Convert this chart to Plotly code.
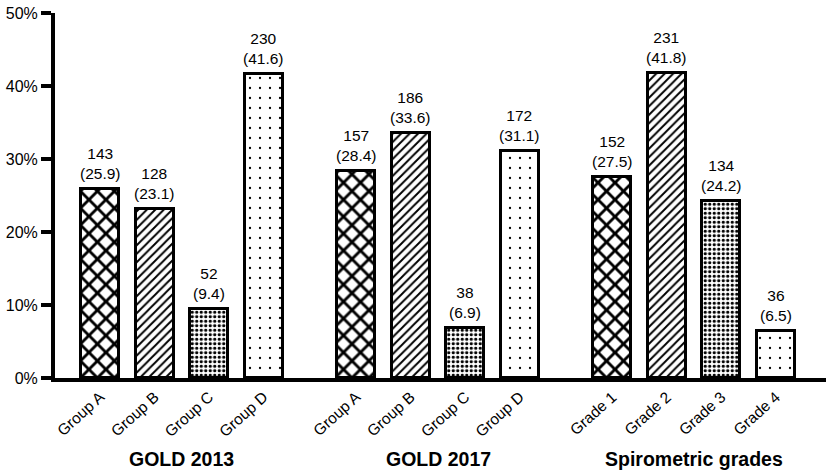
import plotly.graph_objects as go

# ---- data ----
groups = ["GOLD 2013", "GOLD 2017", "Spirometric grades"]
categories = [
    ["Group A", "Group B", "Group C", "Group D"],
    ["Group A", "Group B", "Group C", "Group D"],
    ["Grade 1", "Grade 2", "Grade 3", "Grade 4"],
]
counts = [
    [143, 128, 52, 230],
    [157, 186, 38, 172],
    [152, 231, 134, 36],
]
percents = [
    [25.9, 23.1, 9.4, 41.6],
    [28.4, 33.6, 6.9, 31.1],
    [27.5, 41.8, 24.2, 6.5],
]
y_ticks = [0, 10, 20, 30, 40, 50]

# ---- styling ----
GROUP_STEP = 4.7   # slots between group starts
patterns = [
    dict(shape="x", size=12, solidity=0.42),
    dict(shape="/", size=6, solidity=0.32),
    dict(shape=".", size=4.5, solidity=0.42),
    dict(shape=".", size=10, solidity=0.04),
]
FONT = "Liberation Sans, Arial, sans-serif"

fig = go.Figure()
tickvals, ticktext = [], []
annotations = []
for g, gname in enumerate(groups):
    xs = [g * GROUP_STEP + i for i in range(len(categories[g]))]
    for i, x in enumerate(xs):
        p = patterns[i]
        fig.add_trace(go.Bar(
            x=[x], y=[percents[g][i]], width=0.7,
            marker=dict(color="white",
                        line=dict(color="black", width=3),
                        pattern=dict(shape=p["shape"], size=p["size"], solidity=p["solidity"],
                                     fgcolor="black", bgcolor="white", fillmode="replace")),
            showlegend=False, hoverinfo="skip",
        ))
        annotations.append(dict(
            x=x, y=percents[g][i], xref="x", yref="y",
            text=f"{counts[g][i]}<br>({percents[g][i]})",
            showarrow=False, yanchor="bottom", yshift=5,
            font=dict(family=FONT, size=15.5, color="black"),
        ))
        tickvals.append(x)
        ticktext.append(categories[g][i])
    annotations.append(dict(
        x=(xs[0] + xs[-1]) / 2, y=0, xref="x", yref="paper",
        text=f"<b>{gname}</b>", showarrow=False, yanchor="middle", yshift=-81,
        font=dict(family=FONT, size=19.5, color="black"),
    ))

fig.update_layout(
    width=826, height=472,
    margin=dict(l=55, r=0, t=13, b=94),
    plot_bgcolor="white", paper_bgcolor="white",
    annotations=annotations,
    bargap=0,
    xaxis=dict(range=[-0.83, 13.32], tickvals=tickvals, ticktext=ticktext, tickangle=-42,
               showgrid=False, zeroline=False, showline=True, linecolor="black", linewidth=4,
               ticks="", tickfont=dict(family=FONT, size=15.5, color="black")),
    yaxis=dict(range=[0, 50], tickvals=y_ticks, ticktext=[f"{v}%" for v in y_ticks],
               showgrid=False, zeroline=False, showline=True, linecolor="black", linewidth=4,
               ticks="outside", ticklen=10, tickwidth=4, tickcolor="black",
               tickfont=dict(family=FONT, size=16, color="black")),
)

fig.write_html("out.html")
